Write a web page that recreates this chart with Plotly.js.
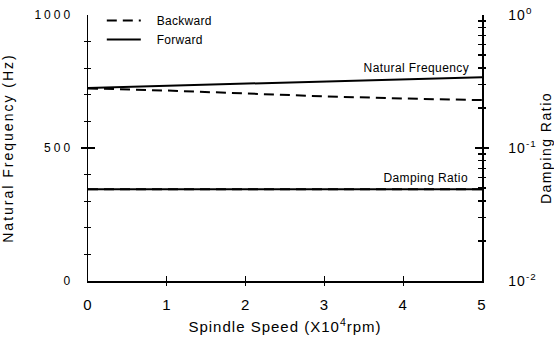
<!DOCTYPE html>
<html>
<head>
<meta charset="utf-8">
<script src="https://cdn.plot.ly/plotly-3.0.1.min.js"></script>
<style>
  html, body { margin: 0; padding: 0; background: #fff; }
  #chart { width: 554px; height: 338px; }
  g.ytick text { letter-spacing: 3px; }
  g.xtick text { letter-spacing: 1px; }
  g.y2tick text { letter-spacing: 1px; }
  text.ytitle { letter-spacing: 2px; }
  text.xtitle { letter-spacing: 1px; }
  text.y2title { letter-spacing: 1.5px; }
  text.legendtext { letter-spacing: 0.3px; }
  g.annotation text { letter-spacing: 0.4px; }
</style>
</head>
<body>
<div id="chart"></div>
<script>
// Spindle speed (x10^4 rpm)
var speed = [0, 1, 2, 3, 4, 5];
// Natural frequency (Hz)
var freqBackward = [724, 716, 705, 694, 686, 680];
var freqForward  = [726, 734, 742, 750, 758, 766];
// Damping ratio
var dampBackward = [0.049, 0.049, 0.049, 0.049, 0.049, 0.049];
var dampForward  = [0.049, 0.049, 0.049, 0.049, 0.049, 0.049];

var leftTicks = [0, 500, 1000];
var leftTickText = ['0', '500', '1000'];
var leftMinor = [100, 200, 300, 400, 600, 700, 800, 900];
var rightTicks = [0.01, 0.1, 1];
var rightTickText = ['10<sup>-2</sup>', '10<sup>-1</sup>', '10<sup>0</sup>'];
var rightMinor = [0.02, 0.03, 0.04, 0.05, 0.06, 0.07, 0.08, 0.09,
                  0.2, 0.3, 0.4, 0.5, 0.6, 0.7, 0.8, 0.9];
var xTicks = [0, 1, 2, 3, 4, 5];
var xTickText = ['0', '1', '2', '3', '4', '5'];

var font = 'Liberation Sans, Arial, Helvetica, sans-serif';
var black = '#000';

// plot frame inside the 554x338 figure (paper spans the whole figure)
var W = 554, H = 338;
var xDom = [88 / W, 482 / W];
var yDom = [(H - 281) / H, (H - 15) / H];

function carrier(xa, ya, yv) {
  return {x: speed, y: yv, xaxis: xa, yaxis: ya, mode: 'lines', showlegend: false,
          opacity: 0, line: {width: 0}, hoverinfo: 'skip'};
}

var traces = [
  {x: speed, y: dampBackward, yaxis: 'y2', mode: 'lines', showlegend: false,
   line: {color: black, width: 2, dash: '10px,6px'}, hoverinfo: 'skip'},
  {x: speed, y: dampForward, yaxis: 'y2', mode: 'lines', showlegend: false,
   line: {color: black, width: 2}, hoverinfo: 'skip'},
  {x: speed, y: freqBackward, name: '\u00a0\u00a0\u00a0Backward', mode: 'lines',
   line: {color: black, width: 2, dash: '10px,6px'}},
  {x: speed, y: freqForward, name: '\u00a0\u00a0\u00a0Forward', mode: 'lines',
   line: {color: black, width: 2}},
  // transparent carriers so the tick-only axes are drawn
  carrier('x2', 'y3', freqForward),
  carrier('x2', 'y4', dampForward),
  carrier('x4', 'y7', freqForward),
  carrier('x5', 'y8', freqForward),
  carrier('x6', 'y9', dampForward),
  carrier('x7', 'y10', dampForward),
  carrier('x8', 'y11', freqForward)
];

function tickOnly(extra) {
  var base = {showticklabels: false, showgrid: false, zeroline: false, showline: false,
              ticks: 'inside', tickwidth: 1.2, tickcolor: black, tickmode: 'array'};
  return Object.assign(base, extra);
}
function hidden(extra) {
  var base = {showticklabels: false, showgrid: false, zeroline: false, showline: false,
              ticks: ''};
  return Object.assign(base, extra);
}

var layout = {
  width: W, height: H,
  margin: {l: 0, r: 0, t: 0, b: 0, pad: 0, autoexpand: false},
  paper_bgcolor: '#fff', plot_bgcolor: 'rgba(0,0,0,0)',
  font: {family: font, color: black, size: 12},
  showlegend: true,
  legend: {x: 101.8 / W, y: 1 - 6 / H, xanchor: 'left', yanchor: 'top',
           bgcolor: 'rgba(0,0,0,0)', borderwidth: 0,
           font: {family: font, size: 12, color: black},
           itemwidth: 34, tracegroupgap: 0},
  xaxis: {
    domain: xDom, range: [0, 5], tickmode: 'array', tickvals: xTicks, ticktext: xTickText,
    showgrid: false, zeroline: false, showline: true, linecolor: black, linewidth: 1.5,
    ticks: '', ticklabelstandoff: 9,
    tickfont: {family: font, size: 15, color: black},
    title: {text: 'Spindle Speed (X10<sup>4</sup>rpm)', font: {family: font, size: 15, color: black}, standoff: 10}
  },
  yaxis: {
    domain: yDom, range: [0, 1000], tickmode: 'array', tickvals: leftTicks, ticktext: leftTickText,
    showgrid: false, zeroline: false, showline: true, linecolor: black, linewidth: 1.5,
    ticks: '', ticklabelstandoff: 11,
    tickfont: {family: font, size: 12, color: black},
    title: {text: 'Natural Frequency (Hz)', font: {family: font, size: 14, color: black}, standoff: 22}
  },
  yaxis2: {
    domain: yDom, overlaying: 'y', anchor: 'x', side: 'right', type: 'log', range: [-2, 0],
    tickmode: 'array', tickvals: rightTicks, ticktext: rightTickText,
    showgrid: false, zeroline: false, showline: true, linecolor: black, linewidth: 1.5,
    ticks: '', ticklabelstandoff: 22,
    tickfont: {family: font, size: 14, color: black},
    title: {text: 'Damping Ratio', font: {family: font, size: 14, color: black}, standoff: 18}
  },
  // inside halves of the crossing ticks
  xaxis2: tickOnly({domain: xDom, overlaying: 'x', anchor: 'y', range: [0, 5],
    tickvals: xTicks, ticklen: 5}),
  yaxis3: tickOnly({domain: yDom, overlaying: 'y', anchor: 'x2', side: 'left', range: [0, 1000],
    tickvals: leftTicks, ticklen: 7,
    minor: {tickmode: 'array', tickvals: leftMinor, ticks: 'inside', ticklen: 3, tickwidth: 1.2, tickcolor: black}}),
  yaxis4: tickOnly({domain: yDom, overlaying: 'y', anchor: 'x2', side: 'right', type: 'log', range: [-2, 0],
    tickvals: rightTicks, ticklen: 7,
    minor: {tickmode: 'array', tickvals: rightMinor, ticks: 'inside', ticklen: 4, tickwidth: 1.2, tickcolor: black}}),
  // outside halves: tick-only axes set just outside the frame, ticks pointing back to it
  xaxis4: hidden({domain: [(88 - 7) / W, xDom[1]], range: [0, 5], anchor: 'y7'}),
  yaxis7: tickOnly({domain: yDom, anchor: 'x4', side: 'left', range: [0, 1000],
    tickvals: leftTicks, ticklen: 7}),
  xaxis5: hidden({domain: [(88 - 4) / W, xDom[1]], range: [0, 5], anchor: 'y8'}),
  yaxis8: tickOnly({domain: yDom, anchor: 'x5', side: 'left', range: [0, 1000],
    tickvals: [], ticks: '',
    minor: {tickmode: 'array', tickvals: leftMinor, ticks: 'inside', ticklen: 4, tickwidth: 1.2, tickcolor: black}}),
  xaxis6: hidden({domain: [xDom[0], (482 + 7) / W], range: [0, 5], anchor: 'y9'}),
  yaxis9: tickOnly({domain: yDom, anchor: 'x6', side: 'right', type: 'log', range: [-2, 0],
    tickvals: rightTicks, ticklen: 7}),
  xaxis7: hidden({domain: [xDom[0], (482 + 4) / W], range: [0, 5], anchor: 'y10'}),
  yaxis10: tickOnly({domain: yDom, anchor: 'x7', side: 'right', type: 'log', range: [-2, 0],
    tickvals: [], ticks: '',
    minor: {tickmode: 'array', tickvals: rightMinor, ticks: 'inside', ticklen: 4, tickwidth: 1.2, tickcolor: black}}),
  yaxis11: hidden({domain: [(H - 286) / H, yDom[1]], range: [0, 1000], anchor: 'x8'}),
  xaxis8: tickOnly({domain: xDom, anchor: 'y11', side: 'bottom', range: [0, 5],
    tickvals: xTicks, ticklen: 5}),
  annotations: [
    {x: 4.82, y: 800, xref: 'x', yref: 'y', text: 'Natural Frequency', showarrow: false,
     xanchor: 'right', yanchor: 'middle', font: {family: font, size: 12, color: black}},
    {x: 4.82, y: 388, xref: 'x', yref: 'y', text: 'Damping Ratio', showarrow: false,
     xanchor: 'right', yanchor: 'middle', font: {family: font, size: 12, color: black}}
  ]
};

Plotly.newPlot('chart', traces, layout, {displayModeBar: false, staticPlot: true});
</script>
</body>
</html>
